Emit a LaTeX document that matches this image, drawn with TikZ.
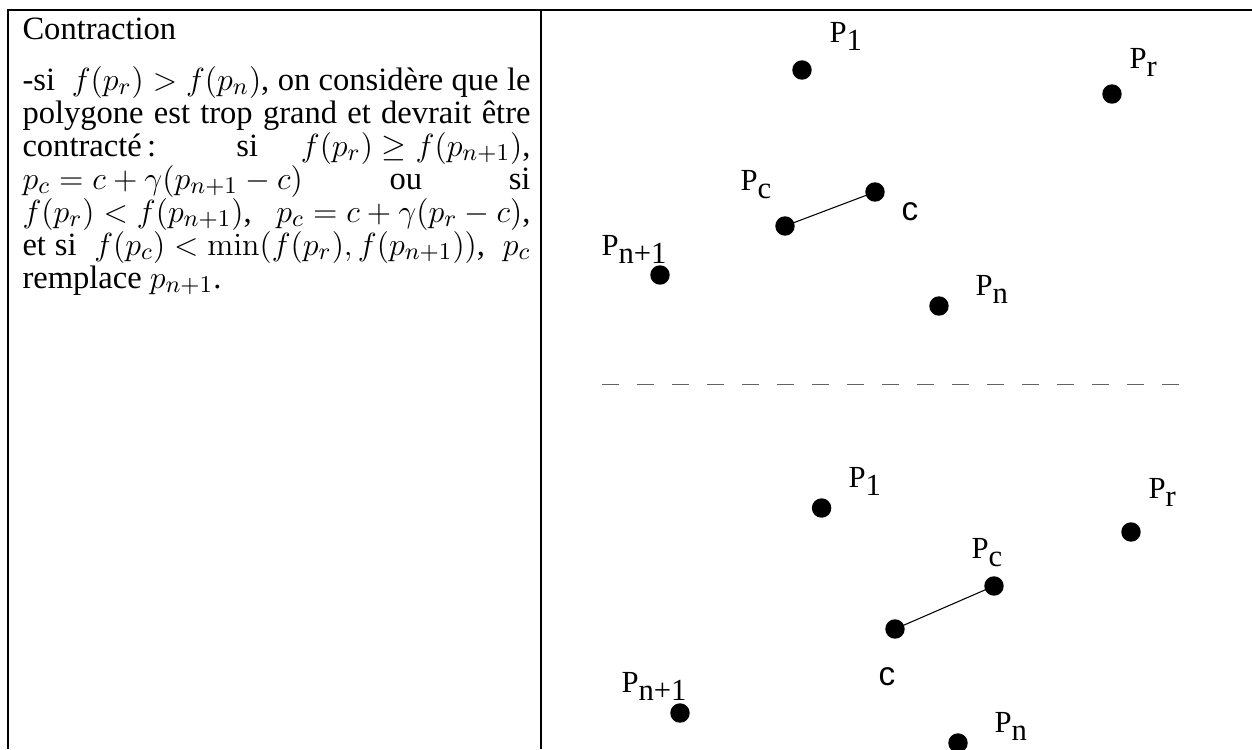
\documentclass[tikz,border=0pt]{standalone}
\usepackage[no-math]{fontspec}
\setmainfont{Liberation Serif}
\newfontfamily\labsans{Liberation Sans}
\definecolor{dashgray}{RGB}{100,100,100}
\newcommand{\Psub}[1]{P\raisebox{-3pt}{#1}}
\tikzset{
  dot/.style={circle, fill=black, draw=none, inner sep=0pt, minimum size=7.3pt},
  plab/.style={anchor=base west, inner sep=0pt, font=\fontsize{11.5}{12}\selectfont},
  clab/.style={anchor=base west, inner sep=0pt, font=\labsans\fontsize{12.5}{14}\selectfont},
  border/.style={line width=0.75pt},
  sepline/.style={line width=0.6pt, draw=dashgray, dash pattern=on 6.375pt off 6.75pt},
  link/.style={line width=0.4pt}
}
\begin{document}
\begin{tikzpicture}[x=0.375pt,y=-0.375pt]
\useasboundingbox (0,0) rectangle (1252,749);
% table borders
\draw[border] (8,749) -- (8,10) -- (1252,10);
\draw[border] (541,10) -- (541,749);

% left column text
\node[anchor=base west, inner sep=0pt, font=\fontsize{12.2}{12.375}\selectfont] (title) at (22,39) {Contraction};
\node[anchor=base west, inner sep=0pt] (body) at (22,90) {\parbox[t]{190.5pt}{\fontsize{12.2}{12.375}\selectfont
\baselineskip=12.375pt
-si\ \ ${f(p_r)>f(p_n)}$, on considère que le\linebreak
polygone est trop grand et devrait être\linebreak
contracté\,: si ${f(p_r)\ge f(p_{n+1})}$,\linebreak
${p_c=c+\gamma(p_{n+1}-c)}$ ou si\linebreak
$f(p_r)<f(p_{n+1})$,\ \ \ $p_c=c+\gamma(p_r-c)$,\linebreak
et si\ \ ${f(p_c)<\min(f(p_r),f(p_{n+1}))}$,\ \ $p_c$\linebreak
remplace $p_{n+1}$.\par}};

% separator
\coordinate (sepL) at (602,384.5);
\coordinate (sepR) at (1179,384.5);
\draw[sepline] (sepL) -- (sepR);

% top configuration
\node[dot] (tP1) at (802,70) {};
\node[dot] (tPr) at (1112,94) {};
\node[dot] (tPc) at (785,226) {};
\node[dot] (tc) at (875,192) {};
\node[dot] (tPn1) at (660,275) {};
\node[dot] (tPn) at (939,306) {};
\draw[link] (tPc.center) -- (tc.center);
\node[plab] (ltP1) at (829,42) {\Psub{1}};
\node[plab] (ltPr) at (1129,68) {\Psub{r}};
\node[plab] (ltPc) at (740,190) {\Psub{c}};
\node[plab] (ltPn1) at (601,255) {\Psub{n+1}};
\node[plab] (ltPn) at (975,295) {\Psub{n}};
\node[clab] (ltc) at (901,220) {c};

% bottom configuration
\node[dot] (bP1) at (821.6,508) {};
\node[dot] (bPr) at (1131,532) {};
\node[dot] (bPc) at (994,586) {};
\node[dot] (bc) at (895,629) {};
\node[dot] (bPn1) at (680,713) {};
\node[dot] (bPn) at (958,743) {};
\draw[link] (bc.center) -- (bPc.center);
\node[plab] (lbP1) at (848,487) {\Psub{1}};
\node[plab] (lbPr) at (1148,498) {\Psub{r}};
\node[plab] (lbPc) at (971,558) {\Psub{c}};
\node[plab] (lbPn1) at (621,692) {\Psub{n+1}};
\node[plab] (lbPn) at (994,732) {\Psub{n}};
\node[clab] (lbc) at (878,685) {c};
\end{tikzpicture}
\end{document}
